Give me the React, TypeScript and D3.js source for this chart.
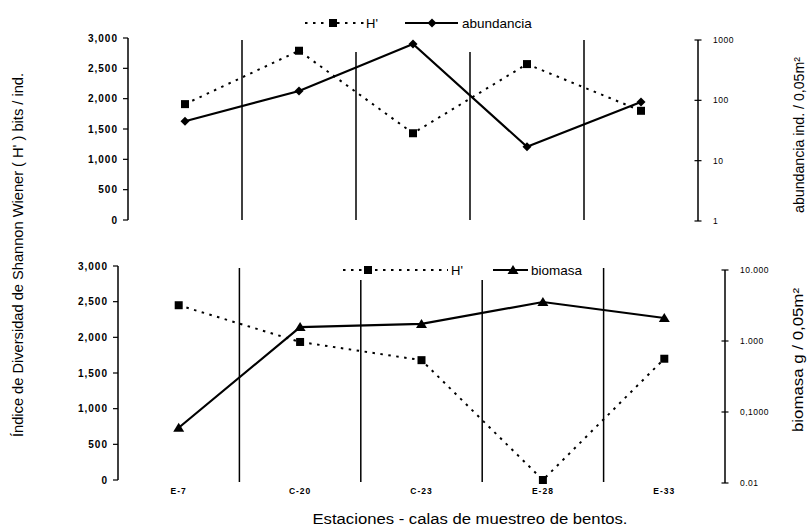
import React from "react";
import * as d3 from "d3";

// Sampling stations (x categories)
const stations = ["E-7", "C-20", "C-23", "E-28", "E-33"];

// Upper panel: Shannon-Wiener diversity and abundance
const hUpper = [1910, 2790, 1430, 2570, 1800];
const abundancia = [45, 143, 860, 17, 94];

// Lower panel: Shannon-Wiener diversity and biomass
const hLower = [2450, 1935, 1680, 0, 1700];
const biomasa = [0.06, 1.57, 1.74, 3.54, 2.11];

// Axis ticks
const diversityTicks = [0, 500, 1000, 1500, 2000, 2500, 3000];
const abundTicks = [1, 10, 100, 1000];
const abundTickLabels = ["1", "10", "100", "1000"];
const biomasaTicks = [0.01, 0.1, 1, 10];
const biomasaTickLabels = ["0.01", "0,1000", "1.000", "10.000"];

const W = 807;
const H = 528;
const FONT = "'Liberation Sans', Arial, Helvetica, sans-serif";
const fmt = d3.format(",");

type Marker = "square" | "diamond" | "triangle";

function MarkerShape({ kind, x, y }: { kind: Marker; x: number; y: number }) {
  if (kind === "square") return <rect x={x - 4} y={y - 4} width={8} height={8} fill="#000" />;
  if (kind === "diamond")
    return <path d={`M${x},${y - 4.5}L${x + 4.5},${y}L${x},${y + 4.5}L${x - 4.5},${y}Z`} fill="#000" />;
  return <path d={`M${x},${y - 5}L${x + 5.5},${y + 4}L${x - 5.5},${y + 4}Z`} fill="#000" />;
}

interface PanelProps {
  left: number;
  right: number;
  yTop: number;
  yBottom: number;
  rTop: number;
  rBottom: number;
  hValues: number[];
  sValues: number[];
  sDomain: [number, number];
  sTicks: number[];
  sLabels: string[];
  marker: Marker;
  legendY: number;
  legend: { dotFrom: number; dotTo: number; sq: number; hText: number; solFrom: number; solTo: number; mk: number; sText: number; label: string };
  sepTop: number;
  sepBottom: number;
}

function Panel(p: PanelProps) {
  const x = d3.scaleBand<string>().domain(stations).range([p.left, p.right]);
  const yL = d3.scaleLinear().domain([0, 3000]).range([p.yBottom, p.yTop]);
  const yR = d3.scaleLog().domain(p.sDomain).range([p.rBottom, p.rTop]);
  const cx = (s: string) => (x(s) as number) + x.bandwidth() / 2;

  const hLine = d3
    .line<number>()
    .x((_, i) => cx(stations[i]))
    .y((v) => yL(v))(p.hValues) as string;
  const sLine = d3
    .line<number>()
    .x((_, i) => cx(stations[i]))
    .y((v) => yR(v))(p.sValues) as string;

  const seps = stations.slice(1).map((s) => x(s) as number);
  const lg = p.legend;

  return (
    <g>
      {/* category separators */}
      {seps.map((sx, i) => {
        const underLegend = sx > lg.dotFrom - 5 && sx < lg.sText + 70;
        return (
          <line
            key={i}
            x1={sx}
            x2={sx}
            y1={underLegend ? p.sepTop + 12 : p.sepTop}
            y2={p.sepBottom}
            stroke="#000"
            strokeWidth={1.5}
          />
        );
      })}

      {/* left axis */}
      <line x1={p.left} x2={p.left} y1={yL(3000)} y2={yL(0)} stroke="#000" strokeWidth={1.5} />
      {diversityTicks.map((t) => (
        <g key={t}>
          <line x1={p.left - 5} x2={p.left} y1={yL(t)} y2={yL(t)} stroke="#000" strokeWidth={1.2} />
          <text
            x={p.left - 10}
            y={yL(t) + 3.5}
            textAnchor="end"
            fontFamily={FONT}
            fontWeight="bold"
            fontSize={10}
            letterSpacing={1}
          >
            {fmt(t)}
          </text>
        </g>
      ))}

      {/* right (log) axis */}
      <line x1={p.right} x2={p.right} y1={yR(p.sDomain[1])} y2={yR(p.sDomain[0])} stroke="#000" strokeWidth={1.5} />
      {p.sTicks.map((t, i) => (
        <g key={t}>
          <line x1={p.right - 3.5} x2={p.right + 3.5} y1={yR(t)} y2={yR(t)} stroke="#000" strokeWidth={1.2} />
          <text x={p.right + 15} y={yR(t) + 3} fontFamily={FONT} fontSize={8.5} letterSpacing={0.5}>
            {p.sLabels[i]}
          </text>
        </g>
      ))}

      {/* series */}
      <path d={hLine} fill="none" stroke="#000" strokeWidth={2} strokeDasharray="2.5,5.5" />
      <path d={sLine} fill="none" stroke="#000" strokeWidth={2.2} />
      {p.hValues.map((v, i) => (
        <MarkerShape key={"h" + i} kind="square" x={cx(stations[i])} y={yL(v)} />
      ))}
      {p.sValues.map((v, i) => (
        <MarkerShape key={"s" + i} kind={p.marker} x={cx(stations[i])} y={yR(v)} />
      ))}

      {/* legend */}
      <line x1={lg.dotFrom} x2={lg.dotTo} y1={p.legendY} y2={p.legendY} stroke="#000" strokeWidth={2} strokeDasharray="2.5,5.5" />
      <MarkerShape kind="square" x={lg.sq} y={p.legendY} />
      <text x={lg.hText} y={p.legendY + 5} fontFamily={FONT} fontSize={13}>
        H'
      </text>
      <line x1={lg.solFrom} x2={lg.solTo} y1={p.legendY} y2={p.legendY} stroke="#000" strokeWidth={2.2} />
      <MarkerShape kind={p.marker} x={lg.mk} y={p.legendY} />
      <text x={lg.sText} y={p.legendY + 5} fontFamily={FONT} fontSize={13.5}>
        {lg.label}
      </text>
    </g>
  );
}

export default function App() {
  const xBottom = d3.scaleBand<string>().domain(stations).range([118, 725]);
  return (
    <svg width={W} height={H} style={{ position: "absolute", left: 0, top: 0, background: "#fff" }}>
      <rect width={W} height={H} fill="#fff" />
      <Panel
        left={128}
        right={698}
        yTop={38}
        yBottom={220}
        rTop={40}
        rBottom={221}
        hValues={hUpper}
        sValues={abundancia}
        sDomain={[1, 1000]}
        sTicks={abundTicks}
        sLabels={abundTickLabels}
        marker="diamond"
        legendY={23}
        legend={{ dotFrom: 305, dotTo: 364, sq: 333, hText: 366, solFrom: 405, solTo: 458, mk: 432, sText: 462, label: "abundancia" }}
        sepTop={40}
        sepBottom={220}
      />
      <Panel
        left={118}
        right={725}
        yTop={266}
        yBottom={480}
        rTop={270}
        rBottom={483}
        hValues={hLower}
        sValues={biomasa}
        sDomain={[0.01, 10]}
        sTicks={biomasaTicks}
        sLabels={biomasaTickLabels}
        marker="triangle"
        legendY={270}
        legend={{ dotFrom: 343, dotTo: 448, sq: 368, hText: 451, solFrom: 493, solTo: 528, mk: 513, sText: 531, label: "biomasa" }}
        sepTop={268}
        sepBottom={482}
      />

      {/* station labels */}
      {stations.map((s) => (
        <text
          key={s}
          x={(xBottom(s) as number) + xBottom.bandwidth() / 2}
          y={494}
          textAnchor="middle"
          fontFamily={FONT}
          fontWeight="bold"
          fontSize={8.5}
          letterSpacing={1}
        >
          {s}
        </text>
      ))}

      {/* axis titles */}
      <text x={470} y={524} textAnchor="middle" fontFamily={FONT} fontSize={14} textLength={315} lengthAdjust="spacingAndGlyphs">
        Estaciones - calas de muestreo de bentos.
      </text>
      <text
        transform="translate(23,255) rotate(-90)"
        textAnchor="middle"
        fontFamily={FONT}
        fontSize={14}
        textLength={364}
        lengthAdjust="spacingAndGlyphs"
      >
        Índice de Diversidad de Shannon Wiener ( H' ) bits / ind.
      </text>
      <text
        transform="translate(804,135) rotate(-90)"
        textAnchor="middle"
        fontFamily={FONT}
        fontSize={14}
        textLength={156}
        lengthAdjust="spacingAndGlyphs"
      >
        abundancia ind. / 0,05m²
      </text>
      <text
        transform="translate(803,360) rotate(-90)"
        textAnchor="middle"
        fontFamily={FONT}
        fontSize={14}
        textLength={144}
        lengthAdjust="spacingAndGlyphs"
      >
        biomasa g / 0,05m²
      </text>
    </svg>
  );
}
